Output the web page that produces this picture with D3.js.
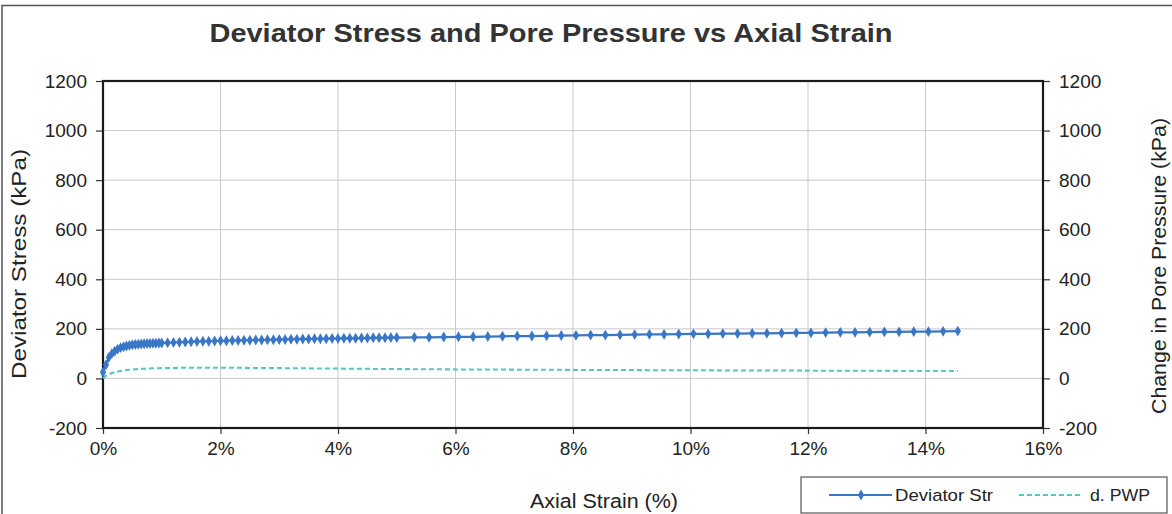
<!DOCTYPE html>
<html><head><meta charset="utf-8">
<script src="https://cdn.jsdelivr.net/npm/d3@7"></script>
<style>body{margin:0;background:#fff}svg{display:block;font-family:"Liberation Sans",Arial,sans-serif}</style>
</head><body>
<svg id="c" width="1172" height="514"></svg>
<script>
const strain = [0,0.05,0.1,0.15,0.2,0.25,0.3,0.35,0.4,0.45,0.5,0.55,0.6,0.65,0.7,0.75,0.8,0.85,0.9,0.95,1.0,
1.1,1.2,1.3,1.4,1.5,1.6,1.7,1.8,1.9,2.0,
2.1,2.2,2.3,2.4,2.5,2.6,2.7,2.8,2.9,3.0,
3.1,3.2,3.3,3.4,3.5,3.6,3.7,3.8,3.9,4.0,
4.1,4.2,4.3,4.4,4.5,4.6,4.7,4.8,4.9,5.0,
5.30,5.55,5.80,6.05,6.30,6.55,6.80,7.05,7.30,7.55,
7.80,8.05,8.30,8.55,8.80,9.05,9.30,9.55,9.80,10.05,
10.30,10.55,10.80,11.05,11.30,11.55,11.80,12.05,12.30,12.55,
12.80,13.05,13.30,13.55,13.80,14.05,14.30,14.55];
const deviatorStress = [25,55,85,100,110,118,124,128,131,134,136,137,138,139,140,141,141,142,142,143,143,
144,145,146,147,148,149,150,150,151,152,
152,153,153,154,154,155,155,156,156,157,
157,158,158,159,159,160,160,160,161,161,
162,162,162,163,163,164,164,164,165,165,
166,166,167,168,168,169,170,171,171,172,
173,174,175,175,176,177,178,178,179,180,
180,181,181,182,182,183,184,184,185,186,
186,187,188,188,189,189,190,191];
const porePressure = [0,10,17,22,25,28,30,32,34,35,36,37,38,39,39,40,40,41,41,41,42,
42,42,43,43,43,43,43,43,43,43,
43,43,43,43,42,42,42,42,42,42,
41,41,41,41,41,40,40,40,40,40,
39,39,39,39,39,38,38,38,38,38,
37,37,37,36,36,36,36,35,35,35,
35,34,34,34,34,34,33,33,33,33,
33,32,32,32,32,32,32,31,31,31,
31,31,31,30,30,30,30,30];
const xTicks = [0,2,4,6,8,10,12,14,16];
const yTicks = [-200,0,200,400,600,800,1000,1200];
const seriesNames = ["Deviator Str","d. PWP"];

const devColor = "#3a76c6", pwpColor = "#5ec4be";
const svg = d3.select("#c");
const L = 103, R = 1043, T = 81, B = 428;
const x = d3.scaleLinear().domain([0,16]).range([L,R]);
const y = d3.scaleLinear().domain([-200,1200]).range([B,T]);

// outer border
svg.append("path").attr("d","M2,514 V5.5 H1172").attr("fill","none").attr("stroke","#555").attr("stroke-width",1.5);

// grid
svg.append("g").selectAll("line").data(xTicks.slice(1,-1)).join("line")
  .attr("x1",d=>x(d)).attr("x2",d=>x(d)).attr("y1",T).attr("y2",B)
  .attr("stroke","#c9c9c9").attr("stroke-width",1);
svg.append("g").selectAll("line").data(yTicks.slice(1,-1)).join("line")
  .attr("x1",L).attr("x2",R).attr("y1",d=>y(d)).attr("y2",d=>y(d))
  .attr("stroke","#c9c9c9").attr("stroke-width",1);

// axes
const fmtPct = d => d + "%";
const fmtNum = d => String(d);
const ax = svg.append("g").attr("transform",`translate(0,${B})`).call(d3.axisBottom(x).tickValues(xTicks).tickFormat(fmtPct).tickSize(6).tickPadding(5));
const ayl = svg.append("g").attr("transform",`translate(${L},0)`).call(d3.axisLeft(y).tickValues(yTicks).tickFormat(fmtNum).tickSize(7).tickPadding(9));
const ayr = svg.append("g").attr("transform",`translate(${R},0)`).call(d3.axisRight(y).tickValues(yTicks).tickFormat(fmtNum).tickSize(7).tickPadding(9));
[ax,ayl,ayr].forEach(g=>{
  g.selectAll("text").attr("font-size",19).attr("fill","#222").attr("font-family","Liberation Sans, Arial, sans-serif");
  g.selectAll(".tick line").attr("stroke","#333").attr("stroke-width",1.2);
  g.select(".domain").remove();
});
ax.selectAll("text").attr("dy","0.85em");
// frame
svg.append("rect").attr("x",L).attr("y",T).attr("width",R-L).attr("height",B-T)
  .attr("fill","none").attr("stroke","#1a1a1a").attr("stroke-width",2.2);

// series
const pts = strain.map((s,i)=>({s, d:deviatorStress[i], p:porePressure[i]}));
svg.append("path").datum(pts)
  .attr("d", d3.line().x(d=>x(d.s)).y(d=>y(d.p)))
  .attr("fill","none").attr("stroke",pwpColor).attr("stroke-width",2.2).attr("stroke-dasharray","5,3");
svg.append("path").datum(pts)
  .attr("d", d3.line().x(d=>x(d.s)).y(d=>y(d.d)))
  .attr("fill","none").attr("stroke",devColor).attr("stroke-width",2.2);
const diamond = d3.symbol().type(d3.symbolDiamond).size(34);
svg.append("g").selectAll("path").data(pts).join("path")
  .attr("d",diamond).attr("transform",d=>`translate(${x(d.s)},${y(d.d)})`)
  .attr("fill",devColor);

// titles
svg.append("text").attr("x",551).attr("y",42).attr("text-anchor","middle")
  .attr("font-size",25).attr("font-weight","bold").attr("fill","#333")
  .attr("textLength",683).attr("lengthAdjust","spacingAndGlyphs")
  .text("Deviator Stress and Pore Pressure vs Axial Strain");
svg.append("text").attr("x",604).attr("y",508).attr("text-anchor","middle")
  .attr("font-size",20).attr("fill","#222")
  .attr("textLength",148).attr("lengthAdjust","spacingAndGlyphs").text("Axial Strain (%)");
svg.append("text").attr("transform","translate(26,264) rotate(-90)").attr("text-anchor","middle")
  .attr("font-size",20).attr("fill","#222")
  .attr("textLength",230).attr("lengthAdjust","spacingAndGlyphs").text("Deviator Stress (kPa)");
svg.append("text").attr("transform","translate(1166,266) rotate(-90)").attr("text-anchor","middle")
  .attr("font-size",20).attr("fill","#222")
  .attr("textLength",296).attr("lengthAdjust","spacingAndGlyphs").text("Change in Pore Pressure (kPa)");

// legend
const lg = svg.append("g");
lg.append("rect").attr("x",801).attr("y",477).attr("width",366).attr("height",36)
  .attr("fill","#fff").attr("stroke","#555").attr("stroke-width",1.2);
lg.append("line").attr("x1",829).attr("x2",892).attr("y1",495).attr("y2",495).attr("stroke",devColor).attr("stroke-width",2);
lg.append("path").attr("d",diamond).attr("transform","translate(861,495)").attr("fill",devColor);
lg.append("text").attr("x",895).attr("y",501).attr("font-size",17).attr("fill","#222")
  .attr("textLength",98).attr("lengthAdjust","spacingAndGlyphs").text(seriesNames[0]);
lg.append("line").attr("x1",1019).attr("x2",1083).attr("y1",495).attr("y2",495).attr("stroke",pwpColor).attr("stroke-width",2).attr("stroke-dasharray","5,3");
lg.append("text").attr("x",1090).attr("y",501).attr("font-size",17).attr("fill","#222")
  .attr("textLength",60).attr("lengthAdjust","spacingAndGlyphs").text(seriesNames[1]);
</script>
</body></html>
